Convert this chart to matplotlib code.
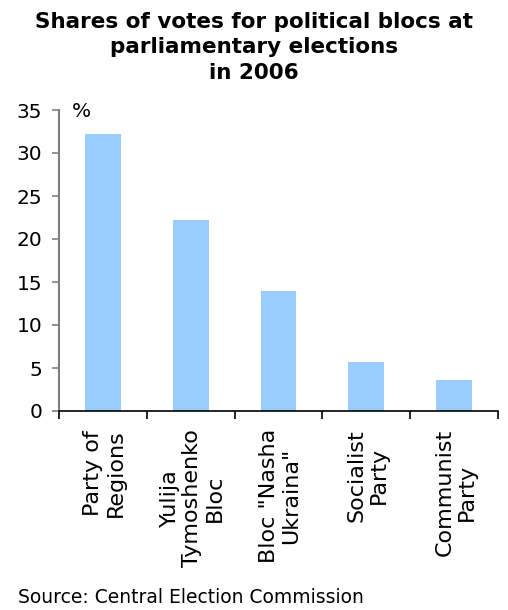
import matplotlib
matplotlib.use("Agg")
import matplotlib.pyplot as plt
import numpy as np

categories = ["Party of\nRegions", "Yulija\nTymoshenko\nBloc", "Bloc \"Nasha\nUkraina\"",
              "Socialist\nParty", "Communist\nParty"]
values = [32.2, 22.2, 13.9, 5.7, 3.6]
yticks = [0, 5, 10, 15, 20, 25, 30, 35]

title = "Shares of votes for political blocs at\nparliamentary elections\nin 2006"
source = "Source: Central Election Commission"

FONT = "DejaVu Sans"

fig = plt.figure(figsize=(5.08, 6.10), dpi=100)
ax = fig.add_axes([59/508, 199/610, (498-59)/508, (411-110)/610])

x = np.arange(len(categories))
ax.bar(x, values, width=0.41, color="#99CCFF", zorder=2)
ax.set_xlim(-0.5, len(categories) - 0.5)
ax.set_ylim(0, 35)
ax.set_yticks(yticks)
ax.set_yticklabels([str(t) for t in yticks], fontsize=14.5, family=FONT)

ax.set_xticks(x)
ax.set_xticklabels([])
ax.set_xticks(np.arange(len(categories) + 1) - 0.5, minor=True)
ax.tick_params(axis="x", which="major", length=0)
ax.tick_params(axis="x", which="minor", length=6, width=1.2, color="black", direction="out")
ax.tick_params(axis="y", length=5, width=1.2, color="#808080", direction="out", pad=7)

for xi, lab in zip(x, categories):
    ax.text(xi + 0.02, -2.1, lab, rotation=90, ha="center", va="top", multialignment="center",
            fontsize=16, family=FONT, linespacing=1.15)

for s in ["top", "right"]:
    ax.spines[s].set_visible(False)
ax.spines["left"].set_color("#808080")
ax.spines["left"].set_linewidth(1.5)
ax.spines["bottom"].set_color("black")
ax.spines["bottom"].set_linewidth(1.2)

ax.text(0.052, 1.025, "%", transform=ax.transAxes, fontsize=14.5, family=FONT,
        ha="center", va="top")

fig.text(0.5, 1 - 12/610, title, ha="center", va="top", fontsize=15.5, fontweight="bold",
         family=FONT, linespacing=1.33)
fig.text(18/508, 1 - 607/610, source, ha="left", va="bottom", fontsize=13.5,
         family=FONT)

fig.savefig("out.png", dpi=100)
